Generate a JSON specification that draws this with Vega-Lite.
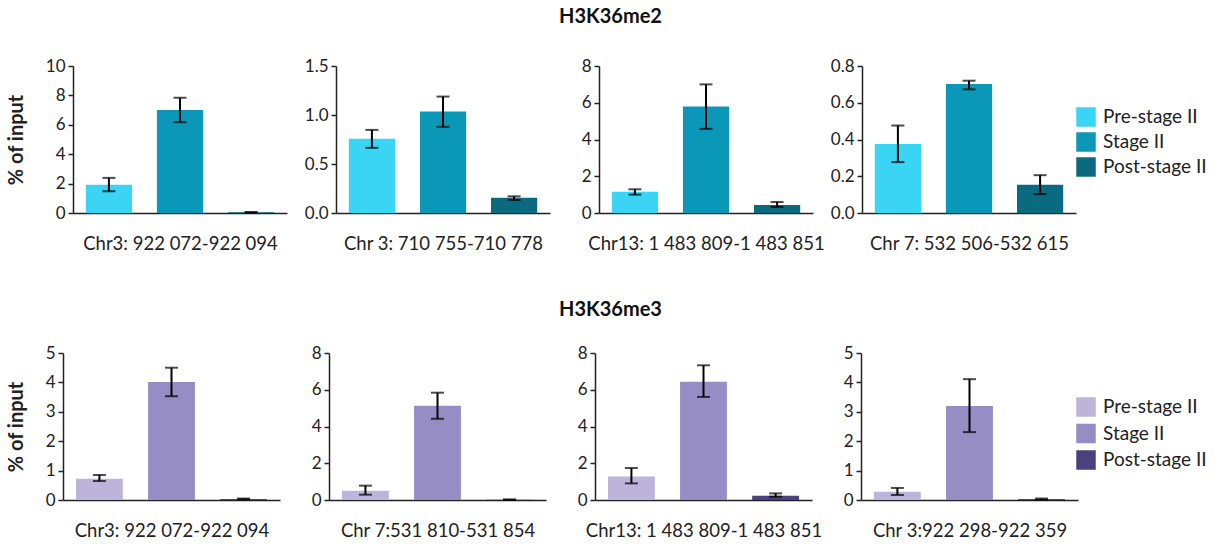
{
  "$schema": "https://vega.github.io/schema/vega-lite/v6.json",
  "background": "white",
  "padding": {"left": 6, "top": 7, "right": 5, "bottom": 5},
  "config": {
    "font": "Lato",
    "view": {"stroke": null},
    "axis": {"grid": false, "labelOverlap": false, "domainColor": "#222", "domainWidth": 1.5, "tickColor": "#222", "tickWidth": 1.5, "tickSize": 5, "labelFont": "Lato", "labelFontSize": 17, "labelColor": "#222", "labelPadding": 3, "titleFont": "Lato", "titleColor": "#222"},
    "axisX": {"titleFontSize": 18.5, "titleFontWeight": "normal", "titlePadding": 21},
    "axisY": {"titleFontSize": 20, "titleFontWeight": "bold", "titlePadding": 19},
    "legend": {"title": null, "symbolType": "square", "symbolSize": 380, "symbolStrokeWidth": 0, "labelFont": "Lato", "labelFontSize": 19, "labelColor": "#222", "rowPadding": 6, "labelOffset": 7},
    "title": {"font": "Lato", "fontSize": 20, "fontWeight": "bold", "color": "#111"}
  },
  "data": {"values": [
    {"row": "me2", "panel": 1, "stage": "Pre-stage II", "value": 1.93, "lo": 1.48, "hi": 2.39},
    {"row": "me2", "panel": 1, "stage": "Stage II", "value": 7.0, "lo": 6.18, "hi": 7.84},
    {"row": "me2", "panel": 1, "stage": "Post-stage II", "value": 0.05, "lo": 0.03, "hi": 0.07},
    {"row": "me2", "panel": 2, "stage": "Pre-stage II", "value": 0.757, "lo": 0.665, "hi": 0.848},
    {"row": "me2", "panel": 2, "stage": "Stage II", "value": 1.035, "lo": 0.879, "hi": 1.188},
    {"row": "me2", "panel": 2, "stage": "Post-stage II", "value": 0.156, "lo": 0.132, "hi": 0.17},
    {"row": "me2", "panel": 3, "stage": "Pre-stage II", "value": 1.16, "lo": 1.0, "hi": 1.29},
    {"row": "me2", "panel": 3, "stage": "Stage II", "value": 5.79, "lo": 4.58, "hi": 7.0},
    {"row": "me2", "panel": 3, "stage": "Post-stage II", "value": 0.43, "lo": 0.33, "hi": 0.6},
    {"row": "me2", "panel": 4, "stage": "Pre-stage II", "value": 0.375, "lo": 0.277, "hi": 0.476},
    {"row": "me2", "panel": 4, "stage": "Stage II", "value": 0.702, "lo": 0.673, "hi": 0.72},
    {"row": "me2", "panel": 4, "stage": "Post-stage II", "value": 0.154, "lo": 0.103, "hi": 0.206},
    {"row": "me3", "panel": 1, "stage": "Pre-stage II", "value": 0.724, "lo": 0.645, "hi": 0.85},
    {"row": "me3", "panel": 1, "stage": "Stage II", "value": 4.016, "lo": 3.53, "hi": 4.5},
    {"row": "me3", "panel": 1, "stage": "Post-stage II", "value": 0.03, "lo": 0.02, "hi": 0.05},
    {"row": "me3", "panel": 2, "stage": "Pre-stage II", "value": 0.51, "lo": 0.29, "hi": 0.78},
    {"row": "me3", "panel": 2, "stage": "Stage II", "value": 5.13, "lo": 4.42, "hi": 5.84},
    {"row": "me3", "panel": 2, "stage": "Post-stage II", "value": 0.02, "lo": 0.01, "hi": 0.03},
    {"row": "me3", "panel": 3, "stage": "Pre-stage II", "value": 1.285, "lo": 0.905, "hi": 1.74},
    {"row": "me3", "panel": 3, "stage": "Stage II", "value": 6.43, "lo": 5.61, "hi": 7.33},
    {"row": "me3", "panel": 3, "stage": "Post-stage II", "value": 0.235, "lo": 0.18, "hi": 0.36},
    {"row": "me3", "panel": 4, "stage": "Pre-stage II", "value": 0.284, "lo": 0.17, "hi": 0.41},
    {"row": "me3", "panel": 4, "stage": "Stage II", "value": 3.2, "lo": 2.31, "hi": 4.11},
    {"row": "me3", "panel": 4, "stage": "Post-stage II", "value": 0.03, "lo": 0.01, "hi": 0.05}
  ]},
  "resolve": {"scale": {"color": "independent"}, "legend": {"color": "independent"}},
  "spacing": 47,
  "vconcat": [
    {
      "title": {"text": "H3K36me2", "anchor": "start", "frame": "group", "dx": 547, "offset": 30},
      "bounds": "flush",
      "spacing": 49,
      "hconcat": [
        {"width": 12, "height": 147, "mark": {"type": "rule", "opacity": 0}, "encoding": {}},
        {
          "width": 214, "height": 147,
          "transform": [{"filter": "datum.row === 'me2' && datum.panel === 1"}],
          "encoding": {"x": {"field": "stage", "type": "nominal", "sort": ["Pre-stage II", "Stage II", "Post-stage II"], "scale": {"paddingInner": 0.35, "paddingOuter": 0.18}, "title": "Chr3: 922 072-922 094", "axis": {"labels": false, "ticks": false}}},
          "layer": [
            {"mark": {"type": "bar"}, "encoding": {"y": {"field": "value", "type": "quantitative", "title": "% of input", "scale": {"domain": [0, 10], "nice": false}, "axis": {"values": [0, 2, 4, 6, 8, 10]}}, "color": {"field": "stage", "type": "nominal", "scale": {"domain": ["Pre-stage II", "Stage II", "Post-stage II"], "range": ["#3ad4f5", "#0b97b7", "#0a6a7f"]}, "legend": {"orient": "none", "legendX": 1064, "legendY": 41, "rowPadding": 5}}}},
            {"mark": {"type": "rule", "color": "black", "strokeWidth": 2}, "encoding": {"y": {"field": "lo", "type": "quantitative", "title": "% of input", "axis": {"values": [0, 2, 4, 6, 8, 10]}}, "y2": {"field": "hi"}}},
            {"mark": {"type": "tick", "color": "black", "size": 13, "thickness": 2}, "encoding": {"y": {"field": "lo", "type": "quantitative", "title": "% of input", "axis": {"values": [0, 2, 4, 6, 8, 10]}}}},
            {"mark": {"type": "tick", "color": "black", "size": 13, "thickness": 2}, "encoding": {"y": {"field": "hi", "type": "quantitative", "title": "% of input", "axis": {"values": [0, 2, 4, 6, 8, 10]}}}}
          ]
        },
        {
          "width": 214, "height": 147,
          "transform": [{"filter": "datum.row === 'me2' && datum.panel === 2"}],
          "encoding": {"x": {"field": "stage", "type": "nominal", "sort": ["Pre-stage II", "Stage II", "Post-stage II"], "scale": {"paddingInner": 0.35, "paddingOuter": 0.18}, "title": "Chr 3: 710 755-710 778", "axis": {"labels": false, "ticks": false}}},
          "layer": [
            {"mark": {"type": "bar"}, "encoding": {"y": {"field": "value", "type": "quantitative", "title": null, "scale": {"domain": [0, 1.5], "nice": false}, "axis": {"values": [0, 0.5, 1, 1.5], "format": ".1f"}}, "color": {"field": "stage", "type": "nominal", "scale": {"domain": ["Pre-stage II", "Stage II", "Post-stage II"], "range": ["#3ad4f5", "#0b97b7", "#0a6a7f"]}, "legend": {"orient": "none", "legendX": 1064, "legendY": 41, "rowPadding": 5}}}},
            {"mark": {"type": "rule", "color": "black", "strokeWidth": 2}, "encoding": {"y": {"field": "lo", "type": "quantitative", "title": null, "axis": {"values": [0, 0.5, 1, 1.5], "format": ".1f"}}, "y2": {"field": "hi"}}},
            {"mark": {"type": "tick", "color": "black", "size": 13, "thickness": 2}, "encoding": {"y": {"field": "lo", "type": "quantitative", "title": null, "axis": {"values": [0, 0.5, 1, 1.5], "format": ".1f"}}}},
            {"mark": {"type": "tick", "color": "black", "size": 13, "thickness": 2}, "encoding": {"y": {"field": "hi", "type": "quantitative", "title": null, "axis": {"values": [0, 0.5, 1, 1.5], "format": ".1f"}}}}
          ]
        },
        {
          "width": 214, "height": 147,
          "transform": [{"filter": "datum.row === 'me2' && datum.panel === 3"}],
          "encoding": {"x": {"field": "stage", "type": "nominal", "sort": ["Pre-stage II", "Stage II", "Post-stage II"], "scale": {"paddingInner": 0.35, "paddingOuter": 0.18}, "title": "Chr13: 1 483 809-1 483 851", "axis": {"labels": false, "ticks": false}}},
          "layer": [
            {"mark": {"type": "bar"}, "encoding": {"y": {"field": "value", "type": "quantitative", "title": null, "scale": {"domain": [0, 8], "nice": false}, "axis": {"values": [0, 2, 4, 6, 8]}}, "color": {"field": "stage", "type": "nominal", "scale": {"domain": ["Pre-stage II", "Stage II", "Post-stage II"], "range": ["#3ad4f5", "#0b97b7", "#0a6a7f"]}, "legend": {"orient": "none", "legendX": 1064, "legendY": 41, "rowPadding": 5}}}},
            {"mark": {"type": "rule", "color": "black", "strokeWidth": 2}, "encoding": {"y": {"field": "lo", "type": "quantitative", "title": null, "axis": {"values": [0, 2, 4, 6, 8]}}, "y2": {"field": "hi"}}},
            {"mark": {"type": "tick", "color": "black", "size": 13, "thickness": 2}, "encoding": {"y": {"field": "lo", "type": "quantitative", "title": null, "axis": {"values": [0, 2, 4, 6, 8]}}}},
            {"mark": {"type": "tick", "color": "black", "size": 13, "thickness": 2}, "encoding": {"y": {"field": "hi", "type": "quantitative", "title": null, "axis": {"values": [0, 2, 4, 6, 8]}}}}
          ]
        },
        {
          "width": 214, "height": 147,
          "transform": [{"filter": "datum.row === 'me2' && datum.panel === 4"}],
          "encoding": {"x": {"field": "stage", "type": "nominal", "sort": ["Pre-stage II", "Stage II", "Post-stage II"], "scale": {"paddingInner": 0.35, "paddingOuter": 0.18}, "title": "Chr 7: 532 506-532 615", "axis": {"labels": false, "ticks": false}}},
          "layer": [
            {"mark": {"type": "bar"}, "encoding": {"y": {"field": "value", "type": "quantitative", "title": null, "scale": {"domain": [0, 0.8], "nice": false}, "axis": {"values": [0, 0.2, 0.4, 0.6, 0.8], "format": ".1f"}}, "color": {"field": "stage", "type": "nominal", "scale": {"domain": ["Pre-stage II", "Stage II", "Post-stage II"], "range": ["#3ad4f5", "#0b97b7", "#0a6a7f"]}, "legend": {"orient": "none", "legendX": 1064, "legendY": 41, "rowPadding": 5}}}},
            {"mark": {"type": "rule", "color": "black", "strokeWidth": 2}, "encoding": {"y": {"field": "lo", "type": "quantitative", "title": null, "axis": {"values": [0, 0.2, 0.4, 0.6, 0.8], "format": ".1f"}}, "y2": {"field": "hi"}}},
            {"mark": {"type": "tick", "color": "black", "size": 13, "thickness": 2}, "encoding": {"y": {"field": "lo", "type": "quantitative", "title": null, "axis": {"values": [0, 0.2, 0.4, 0.6, 0.8], "format": ".1f"}}}},
            {"mark": {"type": "tick", "color": "black", "size": 13, "thickness": 2}, "encoding": {"y": {"field": "hi", "type": "quantitative", "title": null, "axis": {"values": [0, 0.2, 0.4, 0.6, 0.8], "format": ".1f"}}}}
          ]
        }
      ]
    },
    {
      "title": {"text": "H3K36me3", "anchor": "start", "frame": "group", "dx": 547, "offset": 24},
      "bounds": "flush",
      "spacing": 49,
      "hconcat": [
        {"width": 2, "height": 147, "mark": {"type": "rule", "opacity": 0}, "encoding": {}},
        {
          "width": 217, "height": 147,
          "transform": [{"filter": "datum.row === 'me3' && datum.panel === 1"}],
          "encoding": {"x": {"field": "stage", "type": "nominal", "sort": ["Pre-stage II", "Stage II", "Post-stage II"], "scale": {"paddingInner": 0.35, "paddingOuter": 0.18}, "title": "Chr3: 922 072-922 094", "axis": {"labels": false, "ticks": false}}},
          "layer": [
            {"mark": {"type": "bar"}, "encoding": {"y": {"field": "value", "type": "quantitative", "title": "% of input", "scale": {"domain": [0, 5], "nice": false}, "axis": {"values": [0, 1, 2, 3, 4, 5]}}, "color": {"field": "stage", "type": "nominal", "scale": {"domain": ["Pre-stage II", "Stage II", "Post-stage II"], "range": ["#bcb4da", "#958dc3", "#4a427f"]}, "legend": {"orient": "none", "legendX": 1064, "legendY": 44, "rowPadding": 6.5}}}},
            {"mark": {"type": "rule", "color": "black", "strokeWidth": 2}, "encoding": {"y": {"field": "lo", "type": "quantitative", "title": "% of input", "axis": {"values": [0, 1, 2, 3, 4, 5]}}, "y2": {"field": "hi"}}},
            {"mark": {"type": "tick", "color": "black", "size": 13, "thickness": 2}, "encoding": {"y": {"field": "lo", "type": "quantitative", "title": "% of input", "axis": {"values": [0, 1, 2, 3, 4, 5]}}}},
            {"mark": {"type": "tick", "color": "black", "size": 13, "thickness": 2}, "encoding": {"y": {"field": "hi", "type": "quantitative", "title": "% of input", "axis": {"values": [0, 1, 2, 3, 4, 5]}}}}
          ]
        },
        {
          "width": 217, "height": 147,
          "transform": [{"filter": "datum.row === 'me3' && datum.panel === 2"}],
          "encoding": {"x": {"field": "stage", "type": "nominal", "sort": ["Pre-stage II", "Stage II", "Post-stage II"], "scale": {"paddingInner": 0.35, "paddingOuter": 0.18}, "title": "Chr 7:531 810-531 854", "axis": {"labels": false, "ticks": false}}},
          "layer": [
            {"mark": {"type": "bar"}, "encoding": {"y": {"field": "value", "type": "quantitative", "title": null, "scale": {"domain": [0, 8], "nice": false}, "axis": {"values": [0, 2, 4, 6, 8]}}, "color": {"field": "stage", "type": "nominal", "scale": {"domain": ["Pre-stage II", "Stage II", "Post-stage II"], "range": ["#bcb4da", "#958dc3", "#4a427f"]}, "legend": {"orient": "none", "legendX": 1064, "legendY": 44, "rowPadding": 6.5}}}},
            {"mark": {"type": "rule", "color": "black", "strokeWidth": 2}, "encoding": {"y": {"field": "lo", "type": "quantitative", "title": null, "axis": {"values": [0, 2, 4, 6, 8]}}, "y2": {"field": "hi"}}},
            {"mark": {"type": "tick", "color": "black", "size": 13, "thickness": 2}, "encoding": {"y": {"field": "lo", "type": "quantitative", "title": null, "axis": {"values": [0, 2, 4, 6, 8]}}}},
            {"mark": {"type": "tick", "color": "black", "size": 13, "thickness": 2}, "encoding": {"y": {"field": "hi", "type": "quantitative", "title": null, "axis": {"values": [0, 2, 4, 6, 8]}}}}
          ]
        },
        {
          "width": 217, "height": 147,
          "transform": [{"filter": "datum.row === 'me3' && datum.panel === 3"}],
          "encoding": {"x": {"field": "stage", "type": "nominal", "sort": ["Pre-stage II", "Stage II", "Post-stage II"], "scale": {"paddingInner": 0.35, "paddingOuter": 0.18}, "title": "Chr13: 1 483 809-1 483 851", "axis": {"labels": false, "ticks": false}}},
          "layer": [
            {"mark": {"type": "bar"}, "encoding": {"y": {"field": "value", "type": "quantitative", "title": null, "scale": {"domain": [0, 8], "nice": false}, "axis": {"values": [0, 2, 4, 6, 8]}}, "color": {"field": "stage", "type": "nominal", "scale": {"domain": ["Pre-stage II", "Stage II", "Post-stage II"], "range": ["#bcb4da", "#958dc3", "#4a427f"]}, "legend": {"orient": "none", "legendX": 1064, "legendY": 44, "rowPadding": 6.5}}}},
            {"mark": {"type": "rule", "color": "black", "strokeWidth": 2}, "encoding": {"y": {"field": "lo", "type": "quantitative", "title": null, "axis": {"values": [0, 2, 4, 6, 8]}}, "y2": {"field": "hi"}}},
            {"mark": {"type": "tick", "color": "black", "size": 13, "thickness": 2}, "encoding": {"y": {"field": "lo", "type": "quantitative", "title": null, "axis": {"values": [0, 2, 4, 6, 8]}}}},
            {"mark": {"type": "tick", "color": "black", "size": 13, "thickness": 2}, "encoding": {"y": {"field": "hi", "type": "quantitative", "title": null, "axis": {"values": [0, 2, 4, 6, 8]}}}}
          ]
        },
        {
          "width": 217, "height": 147,
          "transform": [{"filter": "datum.row === 'me3' && datum.panel === 4"}],
          "encoding": {"x": {"field": "stage", "type": "nominal", "sort": ["Pre-stage II", "Stage II", "Post-stage II"], "scale": {"paddingInner": 0.35, "paddingOuter": 0.18}, "title": "Chr 3:922 298-922 359", "axis": {"labels": false, "ticks": false}}},
          "layer": [
            {"mark": {"type": "bar"}, "encoding": {"y": {"field": "value", "type": "quantitative", "title": null, "scale": {"domain": [0, 5], "nice": false}, "axis": {"values": [0, 1, 2, 3, 4, 5]}}, "color": {"field": "stage", "type": "nominal", "scale": {"domain": ["Pre-stage II", "Stage II", "Post-stage II"], "range": ["#bcb4da", "#958dc3", "#4a427f"]}, "legend": {"orient": "none", "legendX": 1064, "legendY": 44, "rowPadding": 6.5}}}},
            {"mark": {"type": "rule", "color": "black", "strokeWidth": 2}, "encoding": {"y": {"field": "lo", "type": "quantitative", "title": null, "axis": {"values": [0, 1, 2, 3, 4, 5]}}, "y2": {"field": "hi"}}},
            {"mark": {"type": "tick", "color": "black", "size": 13, "thickness": 2}, "encoding": {"y": {"field": "lo", "type": "quantitative", "title": null, "axis": {"values": [0, 1, 2, 3, 4, 5]}}}},
            {"mark": {"type": "tick", "color": "black", "size": 13, "thickness": 2}, "encoding": {"y": {"field": "hi", "type": "quantitative", "title": null, "axis": {"values": [0, 1, 2, 3, 4, 5]}}}}
          ]
        }
      ]
    }
  ]
}
